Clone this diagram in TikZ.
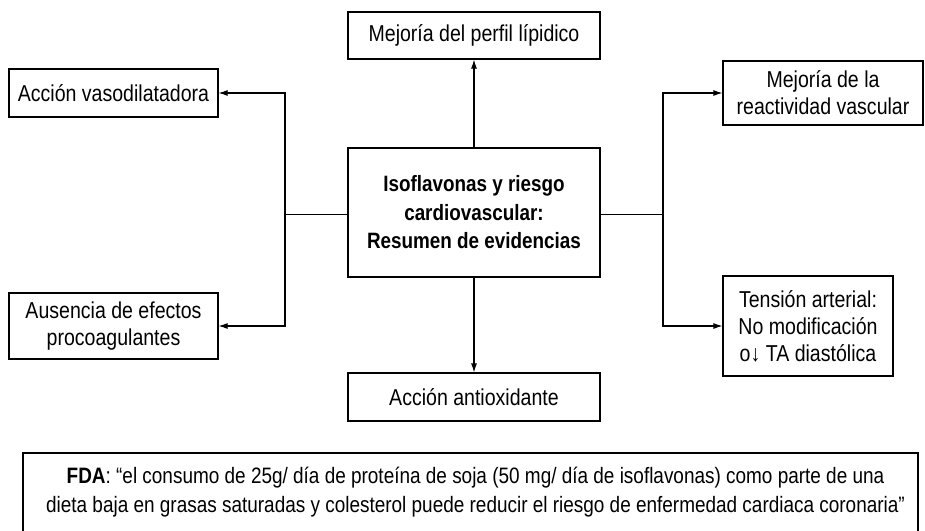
\documentclass[tikz,border=0pt]{standalone}
\usepackage{fontspec}
\setmainfont{Liberation Sans}[FakeStretch=0.85]
\usetikzlibrary{arrows.meta}
\begin{document}
\begin{tikzpicture}[x=1pt,y=-1pt,
  caja/.style={draw, line width=1.1pt, align=center, inner sep=0pt},
  flecha/.style={line width=1.1pt, -{Latex[length=9pt,width=6pt]}},
  font=\fontsize{23}{27}\selectfont]

\useasboundingbox (0,0) rectangle (925,530);

% Boxes

\node [caja, minimum width=252, minimum height=47] (lipid) at (474,35.5) {Mejoría del perfil lípidico};

\node [caja, minimum width=209, minimum height=48] (vaso) at (113.5,93) {Acción vasodilatadora};

\node [caja, minimum width=200, minimum height=64] (reac) at (823,93) {Mejoría de la\\reactividad vascular};

\node [caja, minimum width=252, minimum height=129, font=\fontsize{22.2}{28.5}\selectfont\bfseries] (centro) at (474,212.5) {Isoflavonas y riesgo\\cardiovascular:\\Resumen de evidencias};

\node [caja, minimum width=209, minimum height=66] (ausen) at (113.5,326) {Ausencia de efectos\\procoagulantes};

\node [caja, minimum width=170, minimum height=100] (tension) at (808,326) {Tensión arterial:\\No modificación\\o\textbf{↓} TA diastólica};

\node [caja, minimum width=252, minimum height=48] (antiox) at (474,397) {Acción antioxidante};

% Arrows

\coordinate (izq) at (285,214.5);
\coordinate (der) at (663,214.5);

\draw [flecha] (centro.north) -- (lipid.south);
\draw [flecha] (centro.south) -- (antiox.north);
\draw [line width=1.1pt] (centro.west |- izq) -- (izq);
\draw [flecha] (izq) |- (vaso.east);
\draw [flecha] (izq) |- (ausen.east);
\draw [line width=1.1pt] (centro.east |- der) -- (der);
\draw [flecha] (der) |- (reac.west);
\draw [flecha] (der) |- (tension.west);

% FDA

\draw [line width=1.1pt] (23,532) |- (918,453) -- (918,532);
\node [align=center, font=\fontsize{22.3}{29}\selectfont] (fda) at (475.5,492.5) {\textbf{FDA}: “el consumo de 25g/ día de proteína de soja (50 mg/ día de isoflavonas) como parte de una\\dieta baja en grasas saturadas y colesterol puede reducir el riesgo de enfermedad cardiaca coronaria”};

\end{tikzpicture}
\end{document}
